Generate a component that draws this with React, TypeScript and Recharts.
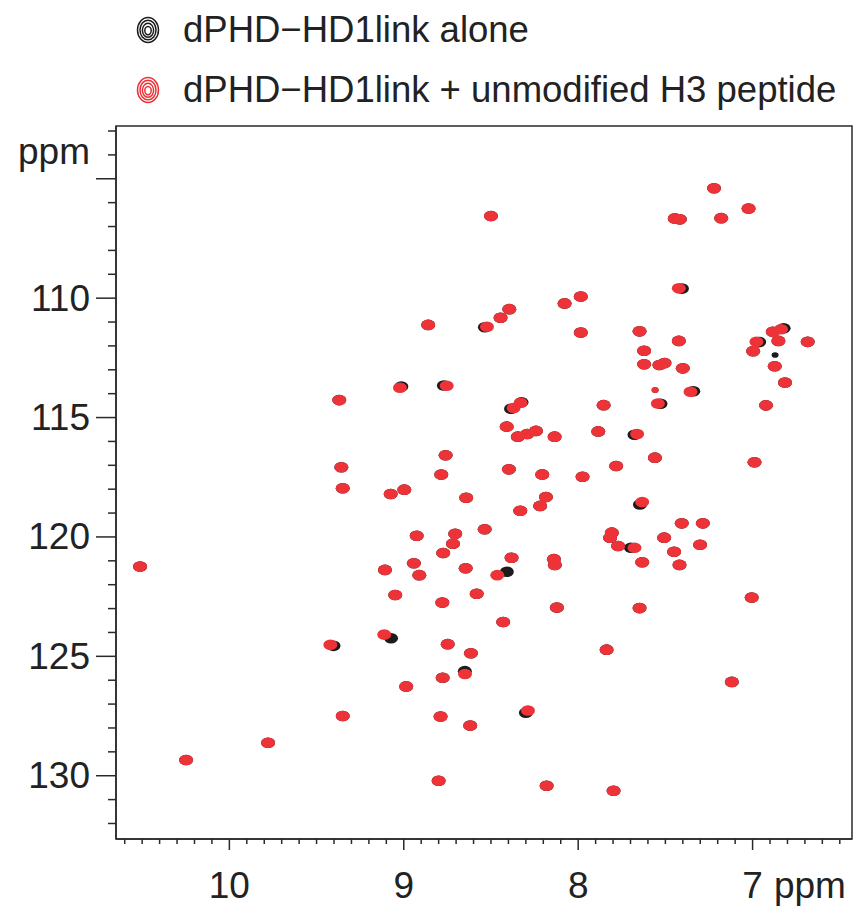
import React from 'react';
import { ScatterChart, Scatter, XAxis, YAxis, ReferenceArea } from 'recharts';

// 1H (x, ppm) / 15N (y, ppm) peak positions
const sharedPeaks: [number, number][] = [
  [8.5, 106.56], [8.86, 111.12], [8.445, 110.82], [8.395, 110.46], [8.078, 110.22], [7.985, 109.93], [7.985, 111.44],
  [7.221, 105.4], [7.023, 106.25], [7.446, 106.66], [7.417, 106.7], [7.18, 106.65],
  [7.648, 111.39], [7.423, 111.79], [7.622, 112.2], [7.622, 112.77], [7.534, 112.8], [7.505, 112.72], [7.4, 112.94],
  [6.884, 111.41], [6.852, 111.79], [6.684, 111.83], [6.997, 112.22], [6.873, 112.85],
  [8.41, 115.38], [8.346, 115.8], [8.292, 115.69], [8.242, 115.56], [8.135, 115.8], [7.885, 115.58], [7.854, 114.48],
  [8.76, 116.58], [8.785, 117.39], [8.397, 117.17], [8.206, 117.38], [7.975, 117.48],
  [9.075, 118.2], [8.997, 118.02], [8.642, 118.36], [8.185, 118.33], [8.218, 118.7], [8.332, 118.9],
  [8.926, 119.95], [8.705, 119.87], [8.718, 120.28], [8.536, 119.68], [8.774, 120.67], [7.807, 119.82], [7.817, 120.03],
  [8.942, 121.1], [9.108, 121.38], [8.911, 121.6], [8.645, 121.31], [8.382, 120.87], [8.139, 120.93], [8.134, 121.17],
  [9.049, 122.43], [8.582, 122.38], [8.779, 122.75], [8.122, 122.96],
  [6.814, 113.53], [6.923, 114.49], [7.56, 116.68], [7.782, 117.03], [6.989, 116.87],
  [7.406, 119.43], [7.285, 119.43], [7.771, 120.38], [7.507, 120.03], [7.45, 120.62], [7.301, 120.33],
  [7.633, 121.06], [7.419, 121.17], [7.005, 122.54], [7.648, 122.98],
  [9.37, 114.27], [9.358, 117.08], [9.35, 117.96], [10.512, 121.24],
  [9.35, 127.5], [9.778, 128.62], [10.248, 129.34],
  [8.43, 123.56], [8.748, 124.49], [8.615, 124.87], [8.777, 125.9], [8.986, 126.26], [8.789, 127.52],
  [8.619, 127.9], [8.8, 130.21], [8.181, 130.42], [7.837, 124.72], [7.797, 130.63], [7.119, 126.07],
];

// weak (low-intensity) peaks present in both spectra
const sharedWeakPeaks: [number, number][] = [[7.559, 113.85]];

// peaks that move on peptide addition: free protein
const aloneShifted: [number, number][] = [
  [8.535, 111.22], [8.77, 113.66], [8.325, 114.36], [8.385, 114.63], [7.405, 109.6], [6.822, 111.26],
  [6.962, 111.84], [9.014, 113.7], [8.409, 121.46], [7.34, 113.9], [7.528, 114.42], [7.677, 115.72],
  [7.646, 118.64], [7.697, 120.45], [9.403, 124.56], [9.073, 124.24], [8.65, 125.62], [8.3, 127.36],
];

// weak peak seen only in the free protein spectrum
const aloneWeakPeaks: [number, number][] = [[6.871, 112.38]];

// same peaks: protein + unmodified H3 peptide
const complexShifted: [number, number][] = [
  [8.523, 111.2], [8.754, 113.67], [8.33, 114.38], [8.37, 114.6], [7.423, 109.59], [6.837, 111.3],
  [6.978, 111.83], [9.022, 113.75], [8.464, 121.6], [7.356, 113.92], [7.543, 114.41], [7.662, 115.69],
  [7.633, 118.54], [7.677, 120.45], [9.421, 124.52], [9.112, 124.09], [8.649, 125.74], [8.288, 127.27],
];

const seriesNames = ['dPHD\u2212HD1link alone', 'dPHD\u2212HD1link + unmodified H3 peptide'];
const xLabels = [10, 9, 8, 7];
const yLabels = [110, 115, 120, 125, 130];
const axisUnit = 'ppm';

const xDomain: [number, number] = [6.43, 10.65];
const yDomain: [number, number] = [102.79, 132.65];

const xTicks: number[] = [];
for (let i = 106; i >= 65; i--) xTicks.push(i / 10);
const yTicks: number[] = [];
for (let i = 103; i <= 132; i++) yTicks.push(i);

const toPts = (arr: [number, number][]) => arr.map(([x, y]) => ({ x, y }));
const aloneData = toPts([...sharedPeaks, ...aloneShifted]);
const complexData = toPts([...sharedPeaks, ...complexShifted]);
const aloneWeakData = toPts([...sharedWeakPeaks, ...aloneWeakPeaks]);
const complexWeakData = toPts(sharedWeakPeaks);

const BLACK = '#1c1c1c';
const RED = '#ee3338';
const FONT = '"Liberation Sans", Arial, Helvetica, sans-serif';
const AXIS = '#2a2a2a';

const peakShape = (color: string, rx: number, ry: number) => (props: any) => {
  const { cx, cy } = props;
  if (cx == null || cy == null) return <g />;
  return <ellipse cx={cx} cy={cy} rx={rx} ry={ry} fill={color} />;
};

const XTick = (props: any) => {
  const { x, y, payload } = props;
  const v = payload.value;
  const major = xLabels.some((l) => Math.abs(l - v) < 1e-6);
  const isUnit = Math.abs(v - 6.7) < 1e-6;
  return (
    <g>
      <line x1={x} x2={x} y1={y} y2={y + (major ? 11 : 5)} stroke={AXIS} strokeWidth={1.5} />
      {major && (
        <text x={x} y={y + 59} textAnchor="middle" fontSize={37} fill="#222" fontFamily={FONT}>
          {Math.round(v)}
        </text>
      )}
      {isUnit && (
        <text x={x + 5} y={y + 59} textAnchor="middle" fontSize={37} fill="#222" fontFamily={FONT}>
          {axisUnit}
        </text>
      )}
    </g>
  );
};

const YTick = (props: any) => {
  const { x, y, payload } = props;
  const v = payload.value;
  const major = v % 5 === 0;
  const labelled = yLabels.includes(v);
  return (
    <g>
      <line x1={x - (major ? 20 : 8)} x2={x} y1={y} y2={y} stroke={AXIS} strokeWidth={1.5} />
      {labelled && (
        <text x={x - 26} y={y} textAnchor="end" dominantBaseline="central" fontSize={37} fill="#222" fontFamily={FONT}>
          {v}
        </text>
      )}
      {v === 104 && (
        <text x={x - 26} y={y - 3} textAnchor="end" dominantBaseline="central" fontSize={37} fill="#222" fontFamily={FONT}>
          {axisUnit}
        </text>
      )}
    </g>
  );
};

const LegendIcon = ({ color }: { color: string }) => (
  <svg width={24} height={28} viewBox="0 0 24 28">
    <ellipse cx={12} cy={14} rx={10.5} ry={12.5} fill="none" stroke={color} strokeWidth={1.5} />
    <ellipse cx={12} cy={14} rx={8} ry={9.8} fill="none" stroke={color} strokeWidth={1.5} />
    <ellipse cx={12} cy={14.3} rx={5.6} ry={7} fill="none" stroke={color} strokeWidth={1.5} />
    <ellipse cx={12} cy={14.6} rx={3.2} ry={4.2} fill="none" stroke={color} strokeWidth={1.5} />
  </svg>
);

export default function App() {
  return (
    <div style={{ position: 'absolute', left: 0, top: 0, width: 861, height: 913, background: '#fff' }}>
      {[BLACK, RED].map((c, i) => (
        <div
          key={i}
          style={{
            position: 'absolute',
            left: 136,
            top: 10 + i * 60,
            height: 40,
            display: 'flex',
            alignItems: 'center',
            fontFamily: FONT,
            fontSize: 36.5,
            color: '#222',
            whiteSpace: 'nowrap',
          }}
        >
          <LegendIcon color={c} />
          <span style={{ marginLeft: 23 }}>{seriesNames[i]}</span>
        </div>
      ))}
      <ScatterChart width={861} height={913} margin={{ top: 126, right: 9, bottom: 14, left: 16 }}>
        <XAxis
          type="number"
          dataKey="x"
          domain={xDomain}
          reversed
          allowDataOverflow
          ticks={xTicks}
          interval={0}
          tick={<XTick />}
          tickLine={false}
          tickSize={0}
          tickMargin={0}
          height={60}
          axisLine={{ stroke: AXIS, strokeWidth: 1.5 }}
        />
        <YAxis
          type="number"
          dataKey="y"
          domain={yDomain}
          reversed
          allowDataOverflow
          ticks={yTicks}
          interval={0}
          tick={<YTick />}
          tickLine={false}
          tickSize={0}
          tickMargin={0}
          width={100}
          axisLine={{ stroke: AXIS, strokeWidth: 1.5 }}
        />
        <ReferenceArea
          x1={xDomain[0]}
          x2={xDomain[1]}
          y1={yDomain[0]}
          y2={yDomain[1]}
          fill="none"
          fillOpacity={0}
          stroke={AXIS}
          strokeWidth={1.5}
          ifOverflow="visible"
        />
        <Scatter name={seriesNames[0]} data={aloneData} shape={peakShape(BLACK, 7, 5.3)} isAnimationActive={false} />
        <Scatter name={seriesNames[0] + ' (weak)'} data={aloneWeakData} shape={peakShape(BLACK, 3.5, 2.8)} isAnimationActive={false} />
        <Scatter name={seriesNames[1]} data={complexData} shape={peakShape(RED, 7, 5.3)} isAnimationActive={false} />
        <Scatter name={seriesNames[1] + ' (weak)'} data={complexWeakData} shape={peakShape(RED, 3.5, 3)} isAnimationActive={false} />
      </ScatterChart>
    </div>
  );
}
